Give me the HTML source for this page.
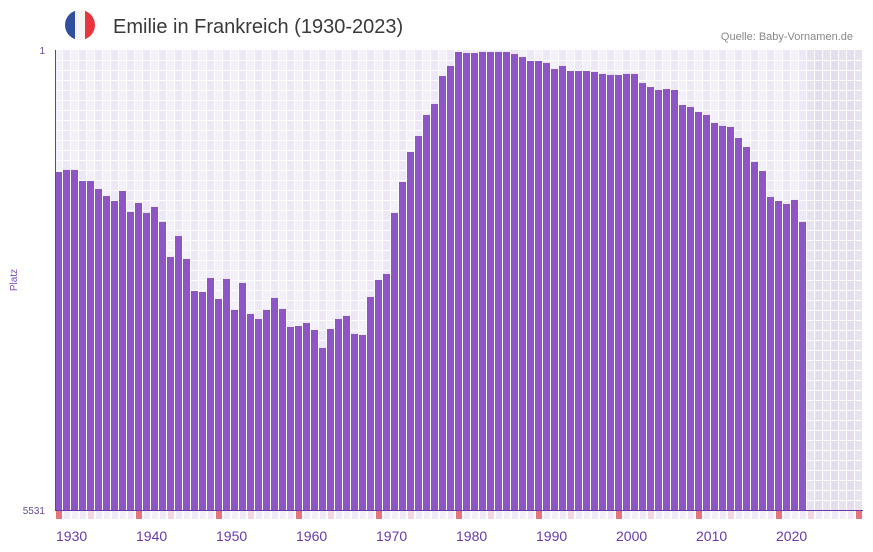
<!DOCTYPE html>
<html><head><meta charset="utf-8"><style>
html,body{margin:0;padding:0;background:#fff;width:873px;height:552px;overflow:hidden}
svg{display:block;font-family:"Liberation Sans",sans-serif}
</style></head><body>
<svg id="chart" width="873" height="552" viewBox="0 0 873 552">
  <g>
    <clipPath id="fc"><circle cx="80" cy="25" r="15"/></clipPath>
    <g clip-path="url(#fc)">
      <rect x="65" y="10" width="10" height="30" fill="#2f4e9e"/>
      <rect x="75" y="10" width="10" height="30" fill="#f4f4f4"/>
      <rect x="85" y="10" width="10" height="30" fill="#e8343c"/>
    </g>
  </g>
  <text x="113" y="33" font-size="20" fill="#3a3a3a">Emilie in Frankreich (1930-2023)</text>
  <text x="853" y="40" font-size="11" fill="#888" text-anchor="end">Quelle: Baby-Vornamen.de</text>
  <text x="45" y="54" font-size="10" fill="#6a4a9a" text-anchor="end">1</text>
  <text x="45" y="514" font-size="10" fill="#6a4a9a" text-anchor="end">5531</text>
  <text x="17" y="280" font-size="10" fill="#7a4ab8" text-anchor="middle" transform="rotate(-90 17 280)">Platz</text>
  <g id="grid"></g>
  <g id="bars"></g>
  <g id="strip"></g>
  <g id="xlabels"></g>
  <line x1="55.5" y1="50" x2="55.5" y2="510" stroke="#6a3aa8" stroke-width="1"/>
  <line x1="55" y1="510.5" x2="863" y2="510.5" stroke="#6a3aa8" stroke-width="1"/>
</svg>
<script>
const years = [];
for (let y = 1930; y <= 2023; y++) years.push(y);
const ranks = [
1468,1443,1443,1576,1576,1672,1756,1816,1696,1948,
1840,1960,1888,2068,2489,2237,2513,2898,2910,2742,
2994,2754,3126,2802,3174,3235,3126,2982,3114,3331,
3319,3283,3367,3583,3355,3235,3198,3415,3427,2970,
2766,2694,1960,1588,1227,1035,782,650,314,193,
25,37,37,25,25,25,25,49,85,133,
133,157,229,193,253,253,253,265,289,301,
301,289,289,398,446,482,470,482,662,686,
746,782,878,914,926,1059,1167,1347,1455,1768,
1816,1852,1804,2068];
const xTickLabels = ["1930","1940","1950","1960","1970","1980","1990","2000","2010","2020"];
const minRank = 1, maxRank = 5531, firstYear = 1930, lastYear = 2030, dataEnd = 2023;

const NS = "http://www.w3.org/2000/svg";
const X0 = 55, STEP = 8, YT = 50, YB = 510;
const xOf = y => X0 + (y - firstYear) * STEP;
const yOf = r => YT + (r - minRank) / (maxRank - minRank) * (YB - YT);
function mk(tag, attrs, parent) {
  const e = document.createElementNS(NS, tag);
  for (const k in attrs) e.setAttribute(k, attrs[k]);
  parent.appendChild(e); return e;
}
const grid = document.getElementById('grid');
for (let y = firstYear; y <= lastYear; y++) {
  const future = y > dataEnd;
  const c = mk('rect', {x: xOf(y), y: YT, width: STEP, height: YB - YT,
    fill: future ? (y % 2 ? '#e3dded' : '#e7e2ef') : (y % 2 ? '#ede7f8' : '#f3effb')}, grid);
  
  
}
for (let gy = YT + 10; gy < YB; gy += 10) {
  const l = mk('line', {x1: X0, x2: xOf(lastYear + 1), y1: gy + 0.5, y2: gy + 0.5, stroke: '#fff', 'stroke-width': 1}, grid);
  
  
}
for (let y = firstYear; y <= lastYear + 1; y++) {
  const l = mk('line', {x1: xOf(y) - 0.5, x2: xOf(y) - 0.5, y1: YT, y2: YB, stroke: '#fff', 'stroke-width': 1}, grid);
  
  
}
const bars = document.getElementById('bars');
years.forEach((y, i) => {
  const top = yOf(ranks[i]);
  const b = mk('rect', {x: xOf(y), y: top, width: STEP - 1, height: YB - top, fill: '#8e55c7'}, bars);
  
  
});
const strip = document.getElementById('strip');
for (let y = firstYear; y <= lastYear; y++) {
  const col = y % 10 === 0 ? '#e8737a' : (y % 10 === 4 ? '#f5d6e0' : (y % 2 ? '#efe9f8' : '#f4f0fb'));
  const s = mk('rect', {x: xOf(y) + 1, y: 511, width: STEP - 2, height: 8, fill: col}, strip);
  
  
}
const xl = document.getElementById('xlabels');
xTickLabels.forEach(t => {
  const e = mk('text', {x: xOf(+t) + 1, y: 541, 'font-size': 14, fill: '#6a3aa8'}, xl);
  e.textContent = t;
  
  
});
</script>
</body></html>
